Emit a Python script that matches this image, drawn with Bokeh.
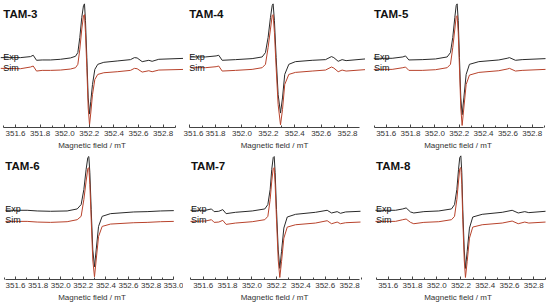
from bokeh.plotting import figure
from bokeh.models import Range1d, FixedTicker, Label, NumeralTickFormatter
from bokeh.layouts import row, column
from bokeh.embed import file_html
from bokeh.resources import INLINE

# ---------------- data (intensity in arbitrary units) ----------------
panel_names = ["TAM-3", "TAM-4", "TAM-5", "TAM-6", "TAM-7", "TAM-8"]
axis_title = "Magnetic field / mT"
trace_names = ["Exp", "Sim"]

tam3_field = [351.478, 351.641, 351.722, 351.744, 351.771, 351.817, 351.885, 351.966,
              352.047, 352.088, 352.107, 352.123, 352.139, 352.153, 352.161, 352.169,
              352.180, 352.191, 352.202, 352.212, 352.226, 352.245, 352.269, 352.318,
              352.427, 352.535, 352.567, 352.589, 352.630, 352.684, 352.711, 352.765, 352.982]
tam3_exp = [4, 4, 7, 11, -4, -3, -3, -1, 3, 8, 19, 64, 124, 159, 164, 114, 4, -116, -164,
            -126, -76, -31, -16, -10, -6, -2, 4, 3, -8, -4, -7, -1, 2]
tam3_sim = [-28, -29, -24, -21, -36, -34, -34, -33, -30, -26, -16, 29, 89, 129, 132, 79, -26,
            -146, -196, -161, -106, -61, -46, -41, -38, -34, -28, -29, -39, -35, -38, -33, -31]

tam4_field = [351.610, 351.723, 351.804, 351.824, 351.850, 351.951, 352.077, 352.153,
              352.178, 352.198, 352.216, 352.229, 352.236, 352.246, 352.259, 352.274,
              352.292, 352.307, 352.324, 352.355, 352.405, 352.532, 352.633, 352.678,
              352.696, 352.729, 352.759, 352.789, 352.960]
tam4_exp = [6, 6, 9, 11, -4, -2, 1, 6, 19, 64, 124, 159, 164, 114, 4, -106, -161, -116, -46,
            -16, -8, -4, -2, 7, 4, -7, -2, -5, 1]
tam4_sim = [-26, -26, -23, -21, -36, -34, -31, -26, -16, 34, 89, 129, 132, 79, -26, -136,
            -196, -151, -76, -46, -40, -36, -33, -24, -27, -38, -33, -36, -31]

tam5_field = [351.498, 351.649, 351.737, 351.759, 351.786, 351.896, 352.005, 352.101,
              352.128, 352.147, 352.164, 352.175, 352.183, 352.192, 352.202, 352.213,
              352.224, 352.238, 352.257, 352.284, 352.361, 352.525, 352.594, 352.613,
              352.662, 352.717, 352.909]
tam5_exp = [2, 2, 6, 9, -3, -2, 0, 6, 19, 64, 124, 159, 164, 114, 4, -116, -166, -116, -46,
            -16, -8, -3, 2, 4, -4, -2, 1]
tam5_sim = [-31, -31, -26, -24, -34, -34, -32, -26, -16, 34, 89, 126, 129, 79, -26, -146,
            -198, -146, -76, -48, -40, -35, -30, -28, -36, -34, -31]

tam6_field = [351.512, 351.703, 351.792, 351.910, 352.057, 352.146, 352.181, 352.205,
              352.225, 352.240, 352.249, 352.258, 352.270, 352.284, 352.299, 352.314,
              352.335, 352.367, 352.441, 352.647, 352.765, 352.883, 353.001]
tam6_exp = [2, 2, 0, -1, 0, 6, 19, 64, 124, 159, 162, 114, 4, -116, -166, -116, -46, -16,
            -8, -3, -2, 0, 1]
tam6_sim = [-31, -31, -33, -34, -32, -26, -16, 34, 89, 126, 129, 79, -26, -146, -196, -146,
            -76, -46, -39, -35, -34, -32, -31]

tam7_field = [351.496, 351.619, 351.668, 351.690, 351.728, 351.761, 351.788, 351.865,
              352.002, 352.105, 352.130, 352.149, 352.162, 352.174, 352.182, 352.190,
              352.201, 352.215, 352.228, 352.242, 352.261, 352.289, 352.357, 352.520,
              352.616, 352.652, 352.698, 352.725, 352.767, 352.889]
tam7_exp = [2, 2, 6, -2, -1, 4, -8, -4, 0, 6, 19, 64, 124, 159, 162, 114, 4, -116, -171,
            -121, -51, -18, -10, -4, 2, -6, -2, -7, -3, -1]
tam7_sim = [-31, -30, -26, -34, -33, -28, -40, -36, -32, -26, -16, 34, 89, 126, 129, 79, -26,
            -146, -198, -151, -81, -48, -41, -36, -29, -38, -33, -38, -35, -33]

tam8_field = [351.495, 351.660, 351.720, 351.748, 351.784, 351.811, 351.894, 352.017,
              352.122, 352.147, 352.166, 352.180, 352.190, 352.199, 352.207, 352.215,
              352.227, 352.237, 352.251, 352.270, 352.297, 352.375, 352.540, 352.622,
              352.672, 352.726, 352.759, 352.897]
tam8_exp = [2, 2, 6, 9, -3, -6, -2, 0, 6, 19, 64, 124, 159, 164, 114, 4, -116, -171, -121,
            -51, -18, -10, -4, 2, -6, -2, -5, -1]
tam8_sim = [-31, -31, -26, -24, -34, -38, -34, -32, -26, -16, 34, 89, 126, 129, 79, -26,
            -146, -198, -151, -81, -48, -41, -36, -30, -38, -33, -36, -33]

ticks_short = [351.6, 351.8, 352.0, 352.2, 352.4, 352.6, 352.8]
ticks_long = [351.6, 351.8, 352.0, 352.2, 352.4, 352.6, 352.8, 353.0]
minor_short = [351.5, 351.7, 351.9, 352.1, 352.3, 352.5, 352.7, 352.9]
minor_long = [351.5, 351.7, 351.9, 352.1, 352.3, 352.5, 352.7, 352.9]

# ---------------- styling / layout ----------------
FONT = "Liberation Sans"
EXP_COLOR = "#2a2a2a"
SIM_COLOR = "#b8432c"
AXIS_COLOR = "#444444"


def make_panel(name, field, exp, sim, xr, bounds, ticks, minor, w, h):
    p = figure(width=w, height=h, x_range=Range1d(*xr), y_range=Range1d(-204, 174),
               output_backend="svg", toolbar_location=None, tools="",
               y_axis_location=None, min_border=0, outline_line_color=None)
    p.grid.visible = False
    p.line(field, exp, line_color=EXP_COLOR, line_width=1)
    p.line(field, sim, line_color=SIM_COLOR, line_width=1)
    ax = p.xaxis[0]
    ax.bounds = bounds
    ax.ticker = FixedTicker(ticks=ticks, minor_ticks=minor)
    ax.formatter = NumeralTickFormatter(format="0.0")
    ax.axis_line_color = AXIS_COLOR
    ax.major_tick_line_color = AXIS_COLOR
    ax.minor_tick_line_color = AXIS_COLOR
    ax.major_tick_in = 3
    ax.major_tick_out = 0
    ax.minor_tick_in = 2
    ax.minor_tick_out = 0
    ax.major_label_standoff = 3
    ax.major_label_text_font = FONT
    ax.major_label_text_font_size = "8px"
    ax.major_label_text_color = "#333333"
    ax.axis_label = axis_title
    ax.axis_label_text_font = FONT
    ax.axis_label_text_font_size = "8px"
    ax.axis_label_text_font_style = "normal"
    ax.axis_label_text_color = "#333333"
    ax.axis_label_standoff = 2
    x0 = bounds[0]
    p.add_layout(Label(x=x0, y=134, text=name, text_font=FONT, text_font_size="11.5px",
                       text_font_style="bold", text_color="#111111",
                       text_baseline="alphabetic"))
    p.add_layout(Label(x=x0, y=6, text=trace_names[0], text_font=FONT,
                       text_font_size="9px", text_color="#111111",
                       text_baseline="alphabetic"))
    p.add_layout(Label(x=x0, y=-26, text=trace_names[1], text_font=FONT,
                       text_font_size="9px", text_color="#111111",
                       text_baseline="alphabetic"))
    return p


H = 152
p1 = make_panel(panel_names[0], tam3_field, tam3_exp, tam3_sim, (351.478, 352.966),
                (351.5, 352.9), ticks_short, minor_short, 183, H)
p2 = make_panel(panel_names[1], tam4_field, tam4_exp, tam4_sim, (351.557, 352.936),
                (351.6, 352.89), ticks_short, [351.7, 351.9, 352.1, 352.3, 352.5, 352.7],
                182, H)
p3 = make_panel(panel_names[2], tam5_field, tam5_exp, tam5_sim, (351.430, 352.950),
                (351.5, 352.89), ticks_short, minor_short, 185, H)
p4 = make_panel(panel_names[3], tam6_field, tam6_exp, tam6_sim, (351.467, 353.087),
                (351.51, 353.0), ticks_long, minor_long, 183, H)
p5 = make_panel(panel_names[4], tam7_field, tam7_exp, tam7_sim, (351.439, 352.930),
                (351.5, 352.88), ticks_short, minor_short, 182, H)
p6 = make_panel(panel_names[5], tam8_field, tam8_exp, tam8_sim, (351.413, 352.938),
                (351.5, 352.9), ticks_short, minor_short, 185, H)

layout = column(row(p1, p2, p3), row(p4, p5, p6))

open("out.html", "w").write(file_html(layout, INLINE))
